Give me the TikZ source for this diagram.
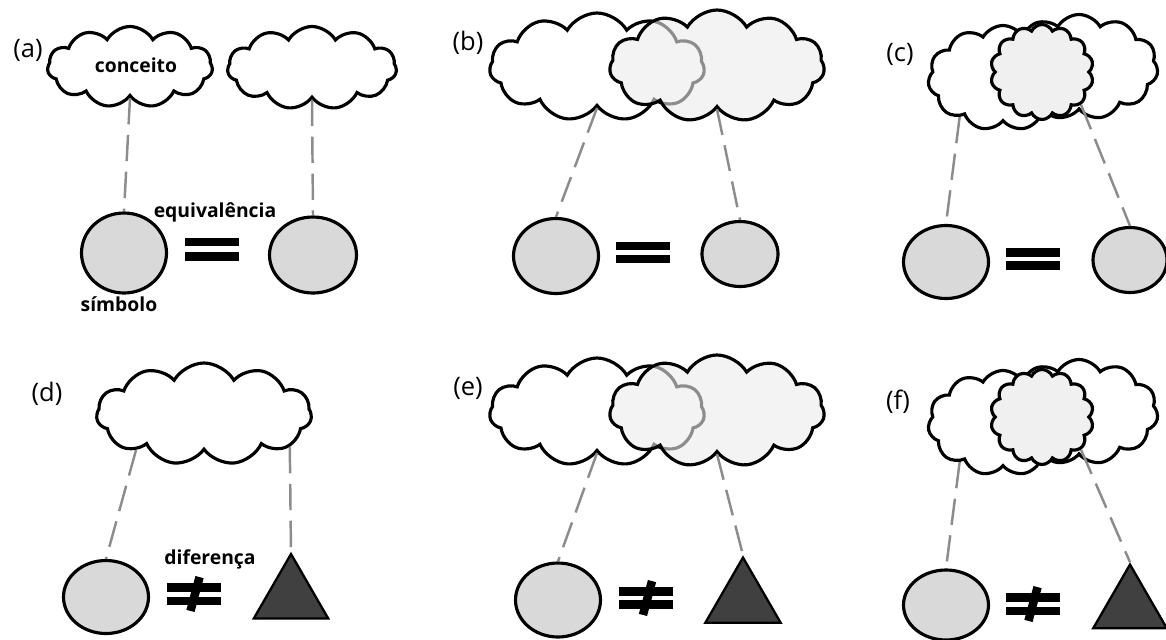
\documentclass[tikz,border=0pt]{standalone}
\usepackage{fontspec}
\setmainfont{Open Sans}
\usepackage{tikz}
\usetikzlibrary{shapes.symbols,shapes.geometric,positioning}

\begin{document}
\begin{tikzpicture}[
  every node/.style={font=\fontsize{11}{13}\selectfont\bfseries},
  lbl/.style={font=\fontsize{14.5}{16}\selectfont},
  cnode/.style={cloud,cloud puffs=11,cloud puff arc=120,cloud ignores aspect,
                draw,line width=1.8pt,fill=white,inner sep=0pt},
  gcnode/.style={cnode,fill=black!8,fill opacity=0.6},
  icnode/.style={cnode,cloud puffs=14,cloud puff arc=130,fill=black!6},
  snode/.style={ellipse,draw,line width=1.8pt,fill=black!15,inner sep=0pt},
  tnode/.style={regular polygon,regular polygon sides=3,draw,line width=1.3pt,
                fill=black!75,inner sep=0pt,minimum size=1.72cm},
  eqbar/.style={rectangle,fill=black,minimum width=1.08cm,minimum height=0.17cm,inner sep=0pt},
  neqbar/.style={eqbar,rotate=-15,minimum width=0.17cm,minimum height=0.70cm},
  link/.style={draw=black!45,line width=1.4pt,dash pattern=on 15pt off 6pt}
]
\useasboundingbox (0,0) rectangle (23.32,-12.78);

% ---- (a) two concepts, two equal symbols ----
\node[lbl] (labA) at (0.56,-1.00) {(a)};
\node[cnode,minimum width=3.30cm,minimum height=1.62cm] (cloA1) at (2.60,-1.34) {};
\node[cnode,minimum width=3.38cm,minimum height=1.66cm] (cloA2) at (6.24,-1.36) {};
\node (txtA) at (2.72,-1.30) {conceito};
\node[snode,minimum width=1.70cm,minimum height=1.60cm] (symA1) at (2.48,-5.06) {};
\node[snode,minimum width=1.74cm,minimum height=1.52cm] (symA2) at (6.26,-5.10) {};
\node[eqbar] (eqA1) at (4.24,-4.84) {};
\node[eqbar] (eqA2) at (4.24,-5.13) {};
\node (equ) at (4.30,-4.24) {equivalência};
\node (simb) at (2.38,-6.08) {símbolo};
\draw[link] (cloA1.south) -- (symA1.north);
\draw[link] (cloA2.south) -- (symA2.north);

% ---- (b) overlapping concepts ----
\node[lbl] (labB) at (9.36,-0.86) {(b)};
\node[cnode,minimum width=4.30cm,minimum height=2.16cm] (cloB1) at (11.94,-1.34) {};
\node[gcnode,minimum width=4.30cm,minimum height=2.24cm] (cloB2) at (14.34,-1.32) {};
\node[snode,minimum width=1.70cm,minimum height=1.50cm] (symB1) at (11.12,-5.12) {};
\node[snode,minimum width=1.52cm,minimum height=1.30cm] (symB2) at (14.80,-5.08) {};
\node[eqbar] (eqB1) at (12.86,-4.92) {};
\node[eqbar] (eqB2) at (12.86,-5.18) {};
\draw[link] (cloB1.south) -- (symB1.north);
\draw[link] (cloB2.south) -- (symB2.north);

% ---- (c) concept inside concepts ----
\node[lbl] (labC) at (18.00,-1.08) {(c)};
\node[cnode,minimum width=3.00cm,minimum height=2.10cm] (cloC1) at (20.06,-1.56) {};
\node[cnode,minimum width=3.16cm,minimum height=2.10cm] (cloC2) at (21.58,-1.34) {};
\node[icnode,minimum width=2.06cm,minimum height=1.90cm] (cloC3) at (20.84,-1.44) {};
\node[snode,minimum width=1.70cm,minimum height=1.46cm] (symC1) at (18.92,-5.24) {};
\node[snode,minimum width=1.48cm,minimum height=1.30cm] (symC2) at (22.60,-5.20) {};
\node[eqbar] (eqC1) at (20.66,-5.05) {};
\node[eqbar] (eqC2) at (20.66,-5.31) {};
\draw[link] (cloC1.222) -- (symC1.north);
\draw[link] (cloC3.-40) -- (symC2.north);

% ---- (d) one concept, different symbols ----
\node[lbl] (labD) at (0.94,-7.88) {(d)};
\node[cnode,minimum width=4.30cm,minimum height=2.04cm] (cloD) at (4.08,-8.28) {};
\node[snode,minimum width=1.70cm,minimum height=1.46cm] (symD) at (2.12,-11.94) {};
\node[tnode] (triD) at (5.82,-11.94) {};
\node[eqbar] (neD1) at (3.87,-11.75) {};
\node[eqbar] (neD2) at (3.87,-12.02) {};
\node[neqbar] (neD3) at (3.90,-11.88) {};
\node (dif) at (4.20,-11.18) {diferença};
\draw[link] (cloD.208) -- (symD.north);
\draw[link] (cloD.339) -- (triD.corner 1);

% ---- (e) ----
\node[lbl] (labE) at (9.36,-7.76) {(e)};
\node[cnode,minimum width=4.30cm,minimum height=2.16cm] (cloE1) at (11.94,-8.24) {};
\node[gcnode,minimum width=4.30cm,minimum height=2.24cm] (cloE2) at (14.34,-8.22) {};
\node[snode,minimum width=1.70cm,minimum height=1.48cm] (symE) at (11.16,-12.00) {};
\node[tnode,minimum size=1.74cm] (triE) at (14.86,-12.02) {};
\node[eqbar] (neE1) at (12.91,-11.83) {};
\node[eqbar] (neE2) at (12.91,-12.09) {};
\node[neqbar] (neE3) at (12.95,-11.96) {};
\draw[link] (cloE1.south) -- (symE.north);
\draw[link] (cloE2.south) -- (triE.corner 1);

% ---- (f) ----
\node[lbl] (labF) at (17.96,-8.04) {(f)};
\node[cnode,minimum width=3.00cm,minimum height=2.10cm] (cloF1) at (20.06,-8.46) {};
\node[cnode,minimum width=3.16cm,minimum height=2.10cm] (cloF2) at (21.58,-8.24) {};
\node[icnode,minimum width=2.06cm,minimum height=1.90cm] (cloF3) at (20.84,-8.34) {};
\node[snode,minimum width=1.70cm,minimum height=1.40cm] (symF) at (18.92,-12.10) {};
\node[tnode,minimum size=1.70cm] (triF) at (22.60,-12.14) {};
\node[eqbar] (neF1) at (20.66,-11.95) {};
\node[eqbar] (neF2) at (20.66,-12.22) {};
\node[neqbar] (neF3) at (20.66,-12.08) {};
\draw[link] (cloF1.222) -- (symF.north);
\draw[link] (cloF3.-40) -- (triF.corner 1);

\end{tikzpicture}
\end{document}
